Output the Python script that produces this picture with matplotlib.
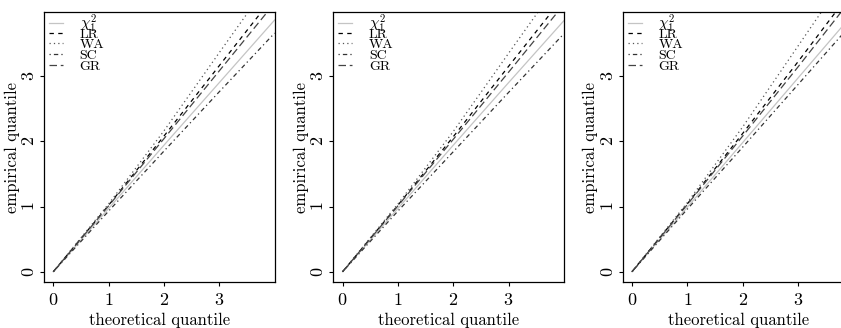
import matplotlib
matplotlib.use("Agg")
import matplotlib.pyplot as plt

plt.rcParams['font.family'] = ['cmr10', 'DejaVu Serif']
plt.rcParams['mathtext.fontset'] = 'cm'
plt.rcParams['axes.formatter.use_mathtext'] = True

# theoretical quantiles (chi^2_1) at which curves were read
theo = [0, 1, 2, 3, 4]

# empirical quantiles
chi2_p = [[0, 0.97, 1.94, 2.90, 3.86],
          [0, 0.97, 1.94, 2.90, 3.85],
          [0, 0.99, 1.98, 2.97, 3.96]]
lr_p = [[0, 1.02, 2.08, 3.16, 4.24],
        [0, 1.02, 2.07, 3.15, 4.22],
        [0, 1.04, 2.12, 3.22, 4.34]]
wa_p = [[0, 1.04, 2.16, 3.36, 4.55],
        [0, 1.04, 2.15, 3.35, 4.54],
        [0, 1.06, 2.22, 3.46, 4.70]]
sc_p = [[0, 0.93, 1.85, 2.76, 3.66],
        [0, 0.93, 1.84, 2.75, 3.65],
        [0, 0.96, 1.91, 2.87, 3.83]]
gr_p = [[0, 1.01, 2.04, 3.08, 4.12],
        [0, 1.01, 2.03, 3.06, 4.10],
        [0, 1.03, 2.08, 3.14, 4.22]]

labels = [r'$\chi^2_1$', 'LR', 'WA', 'SC', 'GR']
styles = [dict(color='#c4c4c4', ls='-'),
          dict(color='black', ls=(0, (3.5, 3.5))),
          dict(color='#555555', ls=(0, (1, 2.5))),
          dict(color='#333333', ls=(0, (1, 2.5, 3.5, 2.5))),
          dict(color='#444444', ls=(0, (6, 3)))]

fig = plt.figure(figsize=(8.41, 3.28), dpi=100)
lefts = [44 / 841, 333.3 / 841, 622.7 / 841]

for i, left in enumerate(lefts):
    ax = fig.add_axes([left, 0.1402, 231 / 841, 0.8232])
    series = [chi2_p[i], lr_p[i], wa_p[i], sc_p[i], gr_p[i]]
    handles = []
    for ys, lab, st in zip(series, labels, styles):
        h, = ax.plot(theo, ys, lw=0.9, label=lab, **st)
        handles.append(h)

    ax.set_xlim(-0.168, 4.007)
    ax.set_ylim(-0.158, 3.983)
    ax.set_xticks([0, 1, 2, 3])
    ax.set_yticks([0, 1, 2, 3])
    ax.tick_params(direction='out', length=3, width=0.8, labelsize=13)
    ax.tick_params(axis='x', pad=4)
    ax.tick_params(axis='y', pad=2)
    for t in ax.get_yticklabels():
        t.set_rotation(90)
        t.set_va('center')
    for s in ax.spines.values():
        s.set_linewidth(0.9)

    ax.set_xlabel('theoretical quantile', fontsize=12)
    ax.set_ylabel('empirical quantile', fontsize=12)
    ax.xaxis.set_label_coords(0.5, -0.141)
    ax.yaxis.set_label_coords(-0.138, 0.5)
    ax.xaxis.label.set_va('center')
    ax.yaxis.label.set_va('center')

    # chi^2 entry on its own so its tall label doesn't push the others down
    leg_kw = dict(loc='upper left', frameon=False, borderpad=0,
                  borderaxespad=0)
    leg1 = ax.legend(handles[:1], labels[:1], fontsize=11,
                     handlelength=0.91, handletextpad=1.09,
                     bbox_to_anchor=(0.022, 0.998), **leg_kw)
    ax.add_artist(leg1)
    ax.legend(handles[1:], labels[1:], fontsize=10,
              handlelength=1.0, handletextpad=1.2,
              bbox_to_anchor=(0.022, 0.941), labelspacing=-0.15, **leg_kw)

fig.savefig('out.png', dpi=100)
